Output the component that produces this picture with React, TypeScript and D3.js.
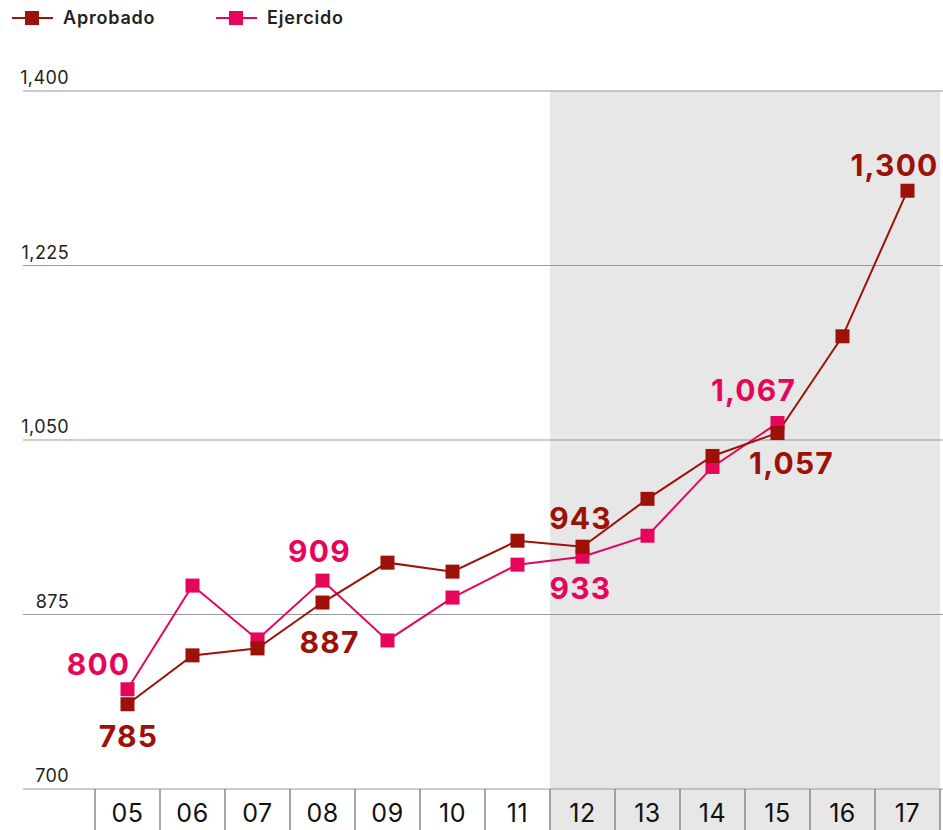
import React from "react";
import * as d3 from "d3";

const years = ["05", "06", "07", "08", "09", "10", "11", "12", "13", "14", "15", "16", "17"];
const aprobado = [785, 834, 841, 887, 927, 918, 949, 943, 991, 1034, 1057, 1154, 1300];
const ejercido: (number | null)[] = [800, 904, 850, 909, 849, 892, 925, 933, 954, 1023, 1067, null, null];
const yTicks = [700, 875, 1050, 1225, 1400];
const shadedFrom = "12";

const DARK = "#9c1108";
const PINK = "#e5065b";

// annotations: series, index, text offsets
const labels = [
  { s: "e", i: 0, text: "800", dx: -29, dy: -14 },
  { s: "a", i: 0, text: "785", dx: 1, dy: 43 },
  { s: "e", i: 3, text: "909", dx: -3, dy: -19 },
  { s: "a", i: 3, text: "887", dx: 7, dy: 50 },
  { s: "a", i: 7, text: "943", dx: -2, dy: -18 },
  { s: "e", i: 7, text: "933", dx: -2, dy: 42 },
  { s: "e", i: 10, text: "1,067", dx: -24, dy: -22 },
  { s: "a", i: 10, text: "1,057", dx: 14, dy: 41 },
  { s: "a", i: 12, text: "1,300", dx: -13, dy: -15 },
];

export default function App() {
  const W = 943, H = 830;
  const left = 95, right = 940;
  const x = d3.scaleBand<string>().domain(years).range([left, right]).padding(0);
  const y = d3.scaleLinear().domain([700, 1400]).range([789, 91]);
  const cx = (i: number) => (x(years[i]) as number) + x.bandwidth() / 2;
  const line = d3.line<[number, number]>().x(d => d[0]).y(d => d[1]);
  const aPts: [number, number][] = aprobado.map((v, i) => [cx(i), y(v)]);
  const ePts: [number, number][] = ejercido
    .map((v, i) => (v == null ? null : ([cx(i), y(v)] as [number, number])))
    .filter((d): d is [number, number] => d != null);
  const shadeX = x(shadedFrom) as number;
  const font = "Inter, 'Open Sans', sans-serif";
  const sq = 14;

  return (
    <svg width={W} height={H} style={{ position: "absolute", left: 0, top: 0, background: "#fff" }}>
      <rect x={shadeX} y={y(1400)} width={right - shadeX} height={H - y(1400)} fill="#e7e7e7" />
      {yTicks.map(t => (
        <g key={t}>
          <line x1={23} x2={W} y1={y(t)} y2={y(t)} stroke="#9a9a9a" strokeWidth={1.2} />
          <text x={69} y={y(t) - 7} textAnchor="end" fontFamily={font} fontSize={18} letterSpacing={0.4} fill="#222">
            {d3.format(",")(t)}
          </text>
        </g>
      ))}
      {/* x axis cells */}
      {years.map((yr, i) => (
        <g key={yr}>
          <line x1={x(yr) as number} x2={x(yr) as number} y1={y(700)} y2={H} stroke="#888" strokeWidth={1.5} />
          <text x={cx(i)} y={822} textAnchor="middle" fontFamily={font} fontSize={25} letterSpacing={0.5} fill="#111">
            {yr}
          </text>
        </g>
      ))}
      <line x1={right} x2={right} y1={y(700)} y2={H} stroke="#888" strokeWidth={1.5} />

      <path d={line(ePts) as string} fill="none" stroke={PINK} strokeWidth={2} />
      <path d={line(aPts) as string} fill="none" stroke={DARK} strokeWidth={2} />
      {ePts.map((p, i) => (
        <rect key={"e" + i} x={p[0] - sq / 2} y={p[1] - sq / 2} width={sq} height={sq} fill={PINK} />
      ))}
      {aPts.map((p, i) => (
        <rect key={"a" + i} x={p[0] - sq / 2} y={p[1] - sq / 2} width={sq} height={sq} fill={DARK} />
      ))}

      {labels.map((l, k) => {
        const v = l.s === "a" ? aprobado[l.i] : (ejercido[l.i] as number);
        return (
          <text
            key={k}
            x={cx(l.i) + l.dx}
            y={y(v) + l.dy}
            textAnchor="middle"
            fontFamily={font}
            fontWeight={700}
            fontSize={30}
            letterSpacing={1.2}
            fill={l.s === "a" ? DARK : PINK}
          >
            {l.text}
          </text>
        );
      })}

      {/* legend */}
      {[
        { name: "Aprobado", c: DARK, x0: 12 },
        { name: "Ejercido", c: PINK, x0: 216 },
      ].map(l => (
        <g key={l.name}>
          <line x1={l.x0} x2={l.x0 + 41} y1={18} y2={18} stroke={l.c} strokeWidth={2} />
          <rect x={l.x0 + 13} y={11} width={14} height={14} fill={l.c} />
          <text x={l.x0 + 51} y={24} fontFamily={font} fontWeight={600} fontSize={18} letterSpacing={0.8} fill="#222">
            {l.name}
          </text>
        </g>
      ))}
    </svg>
  );
}
